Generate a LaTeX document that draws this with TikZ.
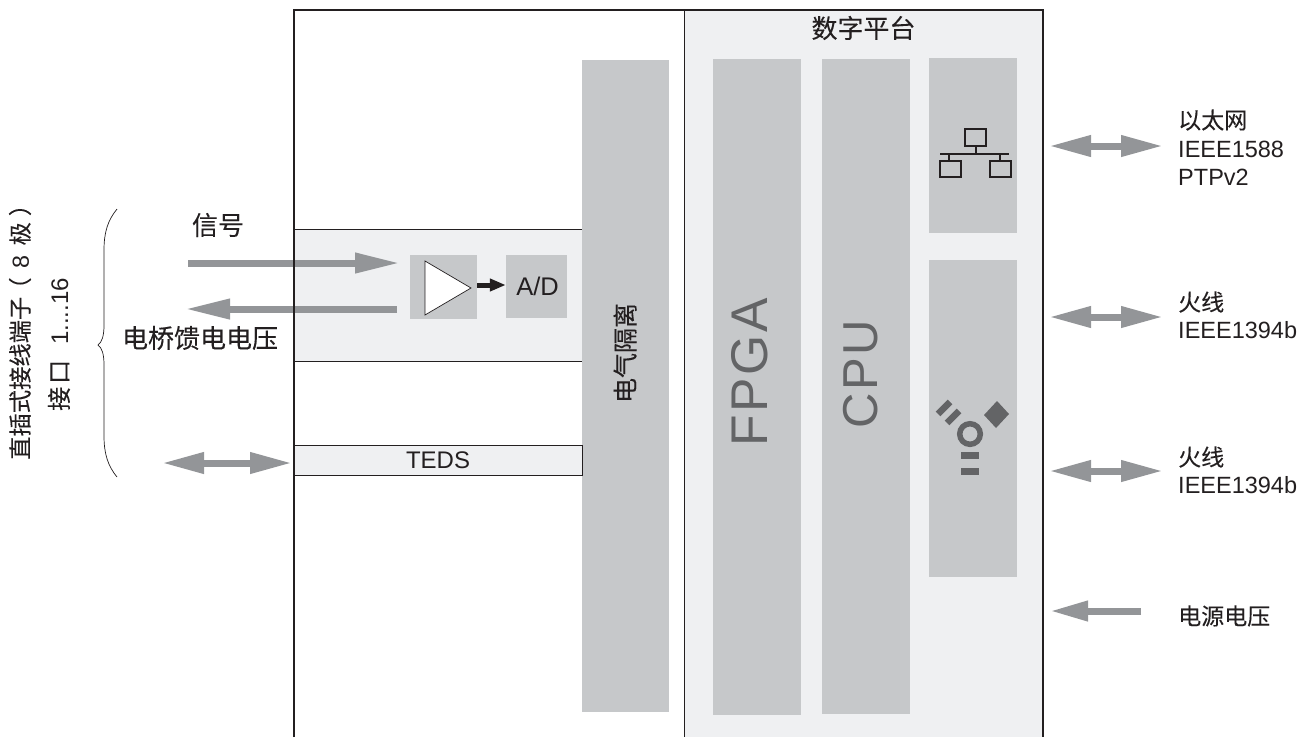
\documentclass[tikz,border=0pt]{standalone}
\usepackage{fontspec}
\setmainfont{Liberation Sans}
\newfontfamily\cjk{Noto Sans CJK SC}
\newfontfamily\cjkb[FakeBold=0.12]{Noto Sans CJK SC}
\newfontfamily\widesans[LetterSpace=5]{Liberation Sans}
\usetikzlibrary{arrows.meta}
\definecolor{blockgray}{RGB}{198, 200, 202}
\definecolor{panelgray}{RGB}{239, 240, 242}
\definecolor{arrowgray}{RGB}{147, 149, 152}
\definecolor{icongray}{RGB}{99, 100, 102}
\definecolor{inkblack}{RGB}{35, 31, 32}
\tikzset{
  block/.style={fill=blockgray, inner sep=0pt},
  band/.style={fill=panelgray, draw=inkblack, line width=0.8pt, inner sep=0pt},
  label/.style={text=inkblack, inner sep=0pt, font=\fontsize{23.5}{28}\selectfont},
  cjklabel/.style={text=inkblack, inner sep=0pt, font=\fontsize{23}{28}\selectfont\cjkb},
  biglabel/.style={cjklabel, font=\fontsize{26}{28}\selectfont\cjkb},
  bigarrow/.style={draw=arrowgray, line width=7pt, -{Triangle[length=45pt,width=19pt]}},
  dblarrow/.style={draw=arrowgray, line width=7pt, {Triangle[length=42pt,width=20pt]}-{Triangle[length=42pt,width=20pt]}},
  iconbox/.style={draw=inkblack, line width=1.5pt}
}
\begin{document}
\begin{tikzpicture}[x=1pt, y=-1pt]
  \useasboundingbox (0,0) rectangle (1308,737);
  \fill[panelgray] (684.5,10) rectangle (1043,737);
  \node[band, minimum width=288pt, minimum height=132pt] (sigband) at (438,295) {};
  \node[block, minimum width=87pt, minimum height=652pt] (iso) at (625.5,386) {};
  \node[block, minimum width=88pt, minimum height=656pt] (fpga) at (757,387) {};
  \node[block, minimum width=88pt, minimum height=655pt] (cpu) at (866,386.5) {};
  \node[block, minimum width=88pt, minimum height=175pt] (eth) at (973,145.5) {};
  \node[block, minimum width=88pt, minimum height=317pt] (fire) at (973,418.5) {};
  \node[block, minimum width=67pt, minimum height=64pt] (amp) at (443.5,287) {};
  \node[block, minimum width=61pt, minimum height=63pt, label, font=\fontsize{25.5}{28}\selectfont] (ad) at (536.5,286.5) {\hspace*{2pt}A/D};
  \node[band, minimum width=288pt, minimum height=30pt, label, font=\fontsize{24}{28}\selectfont] (teds) at (438,460) {\raisebox{-1.5pt}{TEDS}};
  \node[cjklabel, rotate=90, font=\fontsize{25}{28}\selectfont\cjkb] (isotext) at (625,353) {电气隔离};
  \node[text=icongray, inner sep=0pt, rotate=90, font=\fontsize{51.6}{54}\selectfont\widesans] (fpgatext) at (749.5,372) {FPGA};
  \node[text=icongray, inner sep=0pt, rotate=90, font=\fontsize{49}{54}\selectfont\widesans] (cputext) at (860.5,374.5) {CPU};
  \node[biglabel] (title) at (863.5,28) {数字平台};

  \coordinate (sigin) at (188,263);
  \coordinate (sigend) at (400,263);
  \coordinate (feedin) at (397,309);
  \coordinate (feedend) at (185,309);
  \coordinate (tedsout) at (162,463);
  \coordinate (tedsin) at (292,463);
  \draw[bigarrow] (sigin) -- (sigend);
  \draw[bigarrow] (feedin) -- (feedend);
  \draw[dblarrow] (tedsout) -- (tedsin);
  \draw[draw=inkblack, fill=white, line width=0.7pt] (425,261) -- (471,288) -- (425,315) -- cycle;
  \draw[draw=inkblack, line width=5pt, -{Triangle[length=16pt,width=12pt]}] (amp.east) ++(0,-2) -- (ad.west |- 0,285);

  \draw[line width=2pt, inkblack] (294,737) -- (294,10) -- (1043,10) -- (1043,737);
  \draw[line width=0.8pt, inkblack] (684.5,10) -- (684.5,737);

  \node[biglabel] (sigtext) at (218,225) {信号};
  \node[biglabel] (feedtext) at (200,338) {电桥馈电电压};
  \node[cjklabel, rotate=90, anchor=west, font=\fontsize{23.3}{28}\selectfont\cjkb] (pluga) at (20,460)
    {直插式接线端子\hspace{-4pt}（\hspace{9pt}{\normalfont 8}\hspace{10pt}极\hspace{6pt}）};
  \node[cjklabel, rotate=90, anchor=west, font=\fontsize{24}{28}\selectfont\cjkb] (plugb) at (59,411)
    {接\hspace{3pt}口\hspace{15pt}{\normalfont 1....16}};
  \draw[inkblack, line width=0.7pt] (117,209) .. controls (108,220) and (104,232) .. (104,250)
    -- (104,325) .. controls (104,336) and (102,342) .. (98,345)
    .. controls (102,348) and (104,354) .. (104,365)
    -- (104,436) .. controls (104,454) and (108,466) .. (117,477);

  \coordinate (etha) at (1049,146);
  \coordinate (ethb) at (1163,146);
  \coordinate (firea) at (1049,317);
  \coordinate (fireb) at (1163,317);
  \coordinate (firec) at (1049,471);
  \coordinate (fired) at (1163,471);
  \coordinate (powa) at (1141,611);
  \coordinate (powb) at (1050,611);
  \draw[dblarrow] (etha) -- (ethb);
  \draw[dblarrow] (firea) -- (fireb);
  \draw[dblarrow] (firec) -- (fired);
  \draw[bigarrow, -{Triangle[length=38pt,width=19pt]}] (powa) -- (powb);

  \node[anchor=west, cjklabel] (ethtext) at (1178,120) {以太网};
  \node[anchor=west, label] (ethtextb) at (1178,149) {IEEE1588};
  \node[anchor=west, label] (ethtextc) at (1178,177) {PTPv2};
  \node[anchor=west, cjklabel] (firetext) at (1178,302) {火线};
  \node[anchor=west, label] (firetextb) at (1178,330) {IEEE1394b};
  \node[anchor=west, cjklabel] (firetextc) at (1178,457) {火线};
  \node[anchor=west, label] (firetextd) at (1178,485) {IEEE1394b};
  \node[anchor=west, cjklabel] (powtext) at (1178,616) {电源电压};

  \draw[iconbox] (965,129) rectangle (986,146);
  \draw[iconbox] (940,161) rectangle (961,177);
  \draw[iconbox] (990,161) rectangle (1011,177);
  \draw[iconbox] (940,154) -- (1009,154);
  \draw[iconbox, line width=2.5pt] (976,146) -- (976,154);
  \draw[iconbox] (949,154) -- (949,161);
  \draw[iconbox] (1000,154) -- (1000,161);

  \draw[icongray, line width=5.5pt] (970,434) circle (10.3);
  \fill[icongray] (961,452) rectangle (979,459);
  \fill[icongray] (961,468) rectangle (979,475);
  \fill[icongray] (997,401) -- (1009,414) -- (996,428) -- (984,415) -- cycle;
  \draw[icongray, line width=6.5pt] (938,414) -- (950,402);
  \draw[icongray, line width=6.5pt] (947,423) -- (959,411);
\end{tikzpicture}
\end{document}
